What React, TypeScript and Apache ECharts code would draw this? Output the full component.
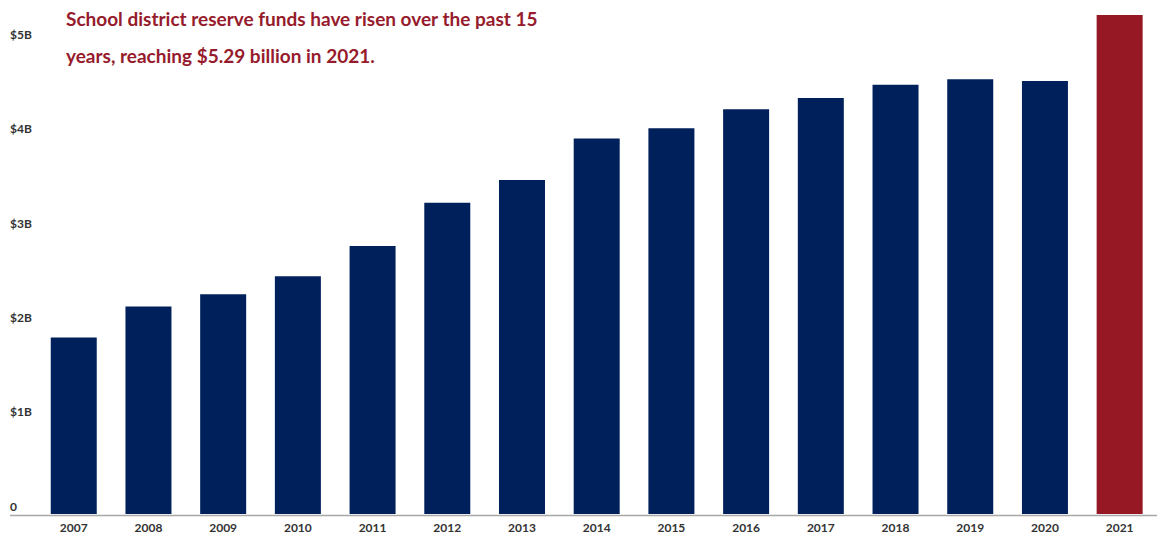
import React, { useEffect, useRef } from "react";
import * as echarts from "echarts";

const years = ["2007","2008","2009","2010","2011","2012","2013","2014","2015","2016","2017","2018","2019","2020","2021"];
const reserves = [1.87, 2.20, 2.33, 2.52, 2.84, 3.30, 3.54, 3.98, 4.09, 4.29, 4.41, 4.55, 4.61, 4.59, 5.29];
const yTickLabels: Record<number, string> = { 0: "0", 1: "$1B", 2: "$2B", 3: "$3B", 4: "$4B", 5: "$5B" };
const titleLines = [
  "School district reserve funds have risen over the past 15",
  "years, reaching $5.29 billion in 2021.",
];

const NAVY = "#00205b";
const RED = "#951824";

export default function App() {
  const ref = useRef<HTMLDivElement>(null);
  useEffect(() => {
    document.body.style.margin = "0";
    if (!ref.current) return;
    const chart = echarts.init(ref.current, undefined, { renderer: "svg" });
    chart.setOption({
      animation: false,
      backgroundColor: "#ffffff",
      title: {
        text: titleLines.join("\n"),
        left: 61,
        top: -5,
        textStyle: {
          color: "#961b2c",
          fontFamily: "Lato",
          fontWeight: "bold",
          fontSize: 19,
          lineHeight: 37,
        },
      },
      grid: { left: 36.4, width: 1128.4, top: 15, height: 500, containLabel: false },
      xAxis: {
        type: "category",
        data: years,
        axisLine: { show: false },
        axisTick: { show: false },
        axisLabel: {
          color: "#333",
          fontFamily: "Lato",
          fontWeight: "bold",
          fontSize: 12,
          margin: 7,
        },
      },
      yAxis: {
        type: "value",
        min: 0,
        max: 5.29,
        interval: 1,
        splitLine: { show: false },
        axisLine: { show: false },
        axisTick: { show: false },
        axisLabel: {
          color: "#333",
          fontFamily: "Lato",
          fontWeight: "bold",
          fontSize: 12,
          align: "left",
          margin: 26.4,
          verticalAlign: "bottom",
          padding: [0, 0, 2, 0],
          formatter: (v: number) =>
            Math.abs(v - Math.round(v)) < 1e-6 ? yTickLabels[Math.round(v)] ?? "" : "",
        },
      },
      graphic: [
        {
          type: "line",
          shape: { x1: 10, y1: 515.5, x2: 1157, y2: 515.5 },
          style: { stroke: "#a8a8a8", lineWidth: 1.5 },
          z: 10,
        },
      ],
      series: [
        {
          type: "bar",
          data: reserves.map((v, i) => ({
            value: v,
            itemStyle: { color: i === reserves.length - 1 ? RED : NAVY },
          })),
          barWidth: 46,
        },
      ],
    });
    return () => chart.dispose();
  }, []);
  return <div ref={ref} style={{ width: 1157, height: 533 }} />;
}
